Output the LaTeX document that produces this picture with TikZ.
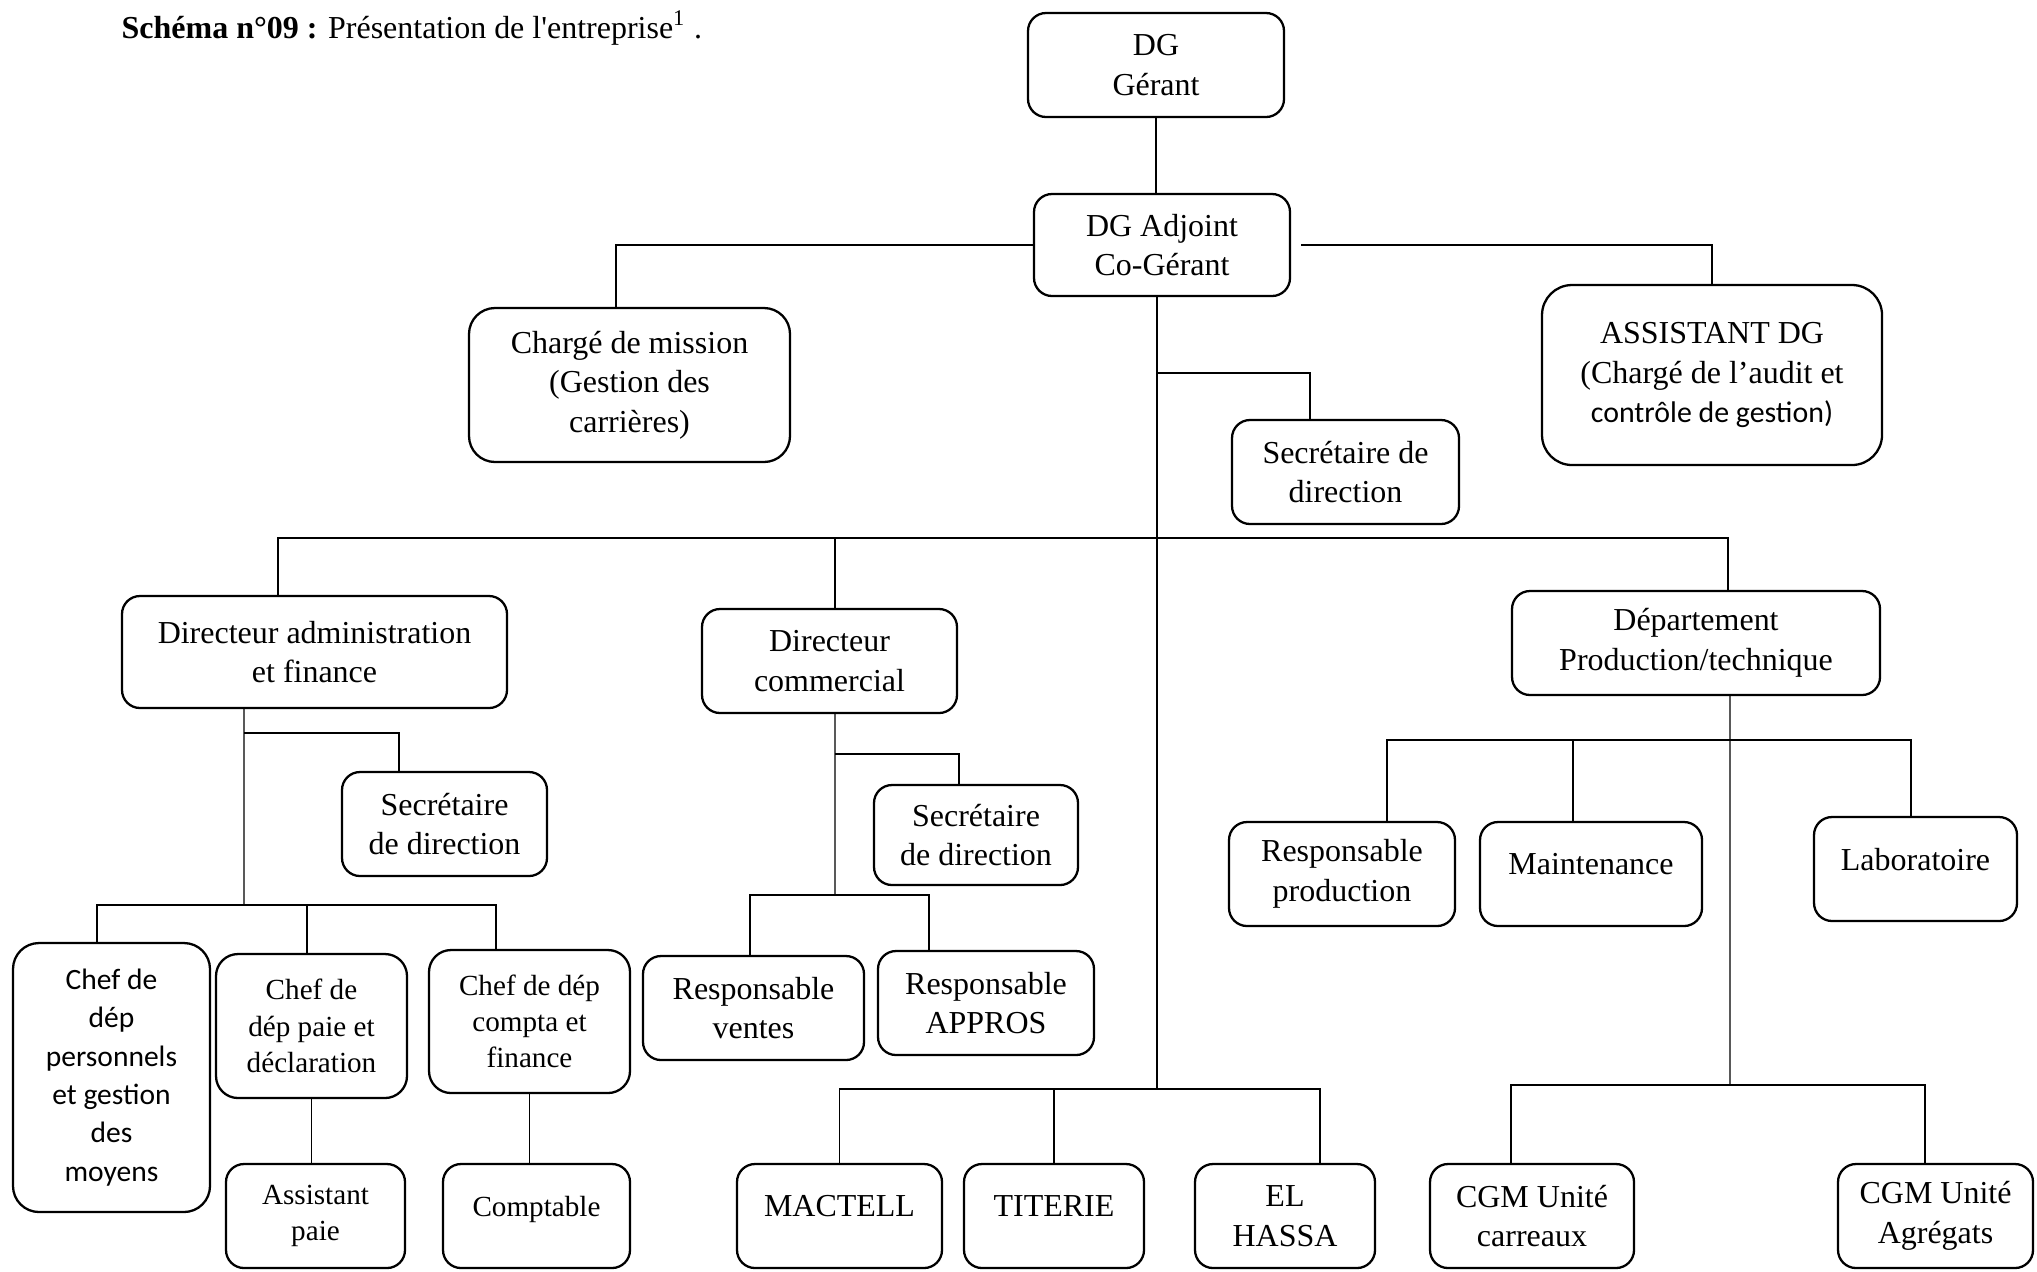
\documentclass[tikz,border=0pt]{standalone}
\usepackage{fontspec}
\setmainfont{Liberation Serif}
\newfontfamily\calibri{Carlito}

\begin{document}
\begin{tikzpicture}[
  x=0.1mm, y=-0.1mm,
  poste/.style={draw, line width=0.65pt, rounded corners=1.8mm, align=center, inner sep=0pt,
    minimum height=10.4mm, font=\fontsize{9.1}{11.3}\selectfont},
  petit/.style={poste, font=\fontsize{8.3}{10.3}\selectfont},
  calib/.style={poste, font=\calibri\fontsize{8.4}{10.9}\selectfont},
  haut/.style={text depth=2mm},
  lien/.style={line width=0.4pt},
]
  \useasboundingbox (0,0) rectangle (2037,1271);
  \node[anchor=west, inner sep=0pt, font=\fontsize{9.1}{11}\selectfont] (titre) at (121,28)
    {\textbf{Schéma n°09 :} Présentation de l\textquotesingle entreprise\textsuperscript{1} .};

  \node[poste, minimum width=25.6mm] (dg) at (1156,65) {DG\\Gérant};
  \node[poste, minimum width=25.6mm, minimum height=10.2mm] (dga) at (1162,245) {DG Adjoint\\Co-Gérant};
  \node[poste, minimum width=32.1mm, minimum height=15.4mm, rounded corners=2.6mm] (mission) at (629.5,385)
    {Chargé de mission\\(Gestion des\\carrières)};
  \node[poste, minimum width=22.7mm] (secdg) at (1345.5,472) {Secrétaire de\\direction};
  \node[poste, minimum width=34mm, minimum height=18mm, rounded corners=3mm] (assist) at (1712,375)
    {ASSISTANT DG\\(Chargé de l’audit et\\{\calibri\fontsize{8.5}{11.3}\selectfont contrôle de gestion)}};

  \node[poste, minimum width=38.5mm, minimum height=11.2mm] (daf) at (314.5,652) {Directeur administration\\et finance};
  \node[poste, minimum width=25.5mm] (dcom) at (829.5,661) {Directeur\\commercial};
  \node[poste, minimum width=36.8mm] (dprod) at (1696,643) {Département\\Production/technique};

  \node[poste, minimum width=20.5mm] (secdaf) at (444.5,824) {Secrétaire\\de direction};
  \node[poste, minimum width=20.4mm, minimum height=10mm] (seccom) at (976,835) {Secrétaire\\de direction};
  \node[poste, minimum width=22.6mm] (respprod) at (1342,874) {Responsable\\production};
  \node[poste, haut, minimum width=22.2mm] (maint) at (1591,874) {Maintenance};
  \node[poste, haut, minimum width=20.3mm] (labo) at (1915.5,869) {Laboratoire};

  \node[calib, minimum width=19.7mm, minimum height=26.9mm, rounded corners=2.6mm] (chefpers) at (111.5,1077.5)
    {Chef de\\dép\\personnels\\et gestion\\des\\moyens};
  \node[petit, minimum width=19.1mm, minimum height=14.4mm, rounded corners=2.2mm] (chefpaie) at (311.5,1026)
    {Chef de\\dép paie et\\déclaration};
  \node[petit, minimum width=20.1mm, minimum height=14.3mm, rounded corners=2.2mm] (chefcpt) at (529.5,1021.5)
    {Chef de dép\\compta et\\finance};
  \node[poste, minimum width=22.1mm] (respvte) at (753.5,1008) {Responsable\\ventes};
  \node[poste, minimum width=21.6mm] (respappro) at (986,1003) {Responsable\\APPROS};

  \node[petit, minimum width=17.9mm] (asspaie) at (315.5,1216) {Assistant\\paie};
  \node[petit, haut, minimum width=18.7mm] (comptable) at (536.5,1216) {Comptable};
  \node[poste, haut, minimum width=20.5mm] (mactell) at (839.5,1216) {MACTELL};
  \node[poste, haut, minimum width=18mm] (titerie) at (1054,1216) {TITERIE};
  \node[poste, minimum width=18mm] (elhassa) at (1285,1216) {EL\\HASSA};
  \node[poste, minimum width=20.4mm] (cgmcar) at (1532,1216) {CGM Unité\\carreaux};
  \node[poste, minimum width=19.5mm] (cgmagr) at (1935.5,1216) {CGM Unité\\Agrégats};

  \coordinate (jsec) at (1157,373);
  \coordinate (bar) at (1157,538);
  \coordinate (trunk) at (1157,1089);
  \coordinate (dafsec) at (244,733);
  \coordinate (dafbar) at (244,905);
  \coordinate (comsec) at (835,754);
  \coordinate (combar) at (835,895);
  \coordinate (prodbar) at (1730,740);
  \coordinate (unitbar) at (1730,1085);

  \draw[lien] (dg.south) -- (dg.south |- dga.north);
  \draw[lien] (dga.west) -| ([xshift=-1.35mm]mission.north);
  \draw[lien] ([xshift=1mm]dga.east) -| (assist.north);
  \draw[lien] (dga.south -| trunk) -- (trunk);
  \draw[lien] (jsec) -| ([xshift=-3.55mm]secdg.north);

  \draw[lien] ([xshift=-3.65mm]daf.north) |- (bar) -| ([xshift=3.2mm]dprod.north);
  \draw[lien] ([xshift=0.55mm]dcom.north) |- (bar);

  \draw[lien] ([xshift=-7.05mm]daf.south) -- (dafbar);
  \draw[lien] (dafsec) -| ([xshift=-4.55mm]secdaf.north);
  \draw[lien] ([xshift=-1.45mm]chefpers.north) |- (dafbar) -| ([xshift=-3.35mm]chefcpt.north);
  \draw[lien] ([xshift=-0.45mm]chefpaie.north) |- (dafbar);
  \draw[lien] (chefpaie.south) -- (chefpaie.south |- asspaie.north);
  \draw[lien] (chefcpt.south) -- (chefcpt.south |- comptable.north);

  \draw[lien] ([xshift=0.55mm]dcom.south) -- (combar);
  \draw[lien] (comsec) -| ([xshift=-1.7mm]seccom.north);
  \draw[lien] ([xshift=-0.35mm]respvte.north) |- (combar) -| ([xshift=-5.7mm]respappro.north);

  \draw[lien] ([xshift=3.4mm]dprod.south) -- (unitbar);
  \draw[lien] ([xshift=4.5mm]respprod.north) |- (prodbar) -| ([xshift=-0.45mm]labo.north);
  \draw[lien] ([xshift=-1.8mm]maint.north) |- (prodbar);
  \draw[lien] ([xshift=-2.1mm]cgmcar.north) |- (unitbar) -| ([xshift=-1.05mm]cgmagr.north);

  \draw[lien] (mactell.north) |- (trunk) -| ([xshift=3.5mm]elhassa.north);
  \draw[lien] (titerie.north) |- (trunk);
\end{tikzpicture}
\end{document}
